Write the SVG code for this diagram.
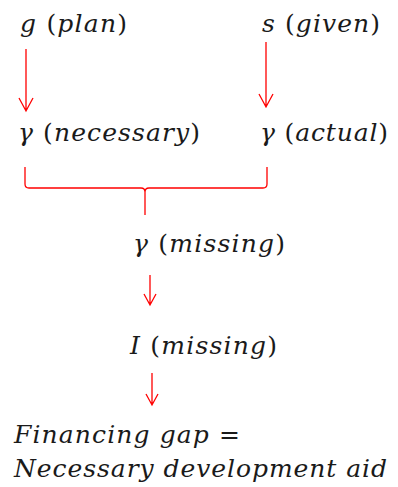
<svg xmlns="http://www.w3.org/2000/svg" width="398" height="487" viewBox="0 0 398 487">
<style>
text{font-family:"DejaVu Serif","Liberation Serif",serif;font-style:italic;font-size:25px;fill:#1a1a1a}
.p{font-style:normal}
.c{fill:none;stroke:#ff0000;stroke-width:1.3}
</style>
<rect width="398" height="487" fill="#fff"/>
<g id="connectors">
<path class="c" d="M26,49V111M19,98L26,111L33,98"/>
<path class="c" d="M266,42V107M259,94L266,107L273,94"/>
<path class="c" d="M25,167V184Q25,188 29,188H141Q145,188 145,192V215M145,192Q145,188 149,188H263Q267,188 267,184V167"/>
<path class="c" d="M150,275V305M144,294L150,305L156,294"/>
<path class="c" d="M152,373V405M146,394L152,405L158,394"/>
</g>
<g id="g"><text x="20" y="32" textLength="107">g <tspan class="p">(</tspan>plan<tspan class="p">)</tspan></text></g>
<g id="s"><text x="262" y="32" textLength="118">s <tspan class="p">(</tspan>given<tspan class="p">)</tspan></text></g>
<g id="gn"><text x="18" y="141" textLength="182">γ <tspan class="p">(</tspan>necessary<tspan class="p">)</tspan></text></g>
<g id="ga"><text x="260" y="141" textLength="128">γ <tspan class="p">(</tspan>actual<tspan class="p">)</tspan></text></g>
<g id="gm"><text x="133" y="252" textLength="152">γ <tspan class="p">(</tspan>missing<tspan class="p">)</tspan></text></g>
<g id="im"><text x="130" y="354" textLength="147">I <tspan class="p">(</tspan>missing<tspan class="p">)</tspan></text></g>
<g id="fg"><text x="14" y="443" textLength="226">Financing gap <tspan class="p">=</tspan></text><text x="14" y="477" textLength="373">Necessary development aid</text></g>
</svg>
